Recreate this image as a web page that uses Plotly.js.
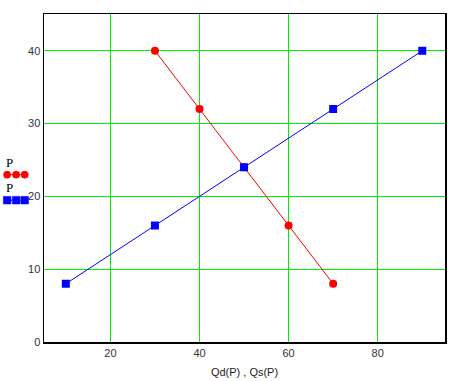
<!DOCTYPE html>
<html><head><meta charset="utf-8">
<script src="https://cdn.plot.ly/plotly-3.0.1.min.js"></script>
<style>html,body{margin:0;padding:0;background:#fff}</style>
</head><body>
<div id="chart" style="width:459px;height:381px"></div>
<script>
const P = [40, 32, 24, 16, 8];
const Qd = [30, 40, 50, 60, 70];
const PS = [8, 16, 24, 32, 40];
const Qs = [10, 30, 50, 70, 90];
const xTicks = [20, 40, 60, 80];
const yTicks = [0, 10, 20, 30, 40];
const legendLabels = ['P', 'P'];

const L = 44.3, T = 14.3, R = 444.7, B = 342.3;
const W = R - L, H = B - T;
const px = v => (v - L) / W;
const py = v => (B - v) / H;

const traces = [
  {x: Qd, y: P, mode: 'lines+markers', line: {color: '#ff0000', width: 1}, marker: {color: '#ff0000', size: 8, symbol: 'circle'}, showlegend: false},
  {x: Qs, y: PS, mode: 'lines+markers', line: {color: '#0000ff', width: 1}, marker: {color: '#0000ff', size: 8, symbol: 'square'}, showlegend: false}
];

const shapes = [];
const annotations = [];
function legendItem(yText, yLine, color, square, label) {
  annotations.push({xref: 'paper', yref: 'paper', x: px(4), y: py(yText), xanchor: 'left', yanchor: 'middle', text: label, showarrow: false, font: {family: 'Liberation Serif, serif', size: 13, color: '#000'}});
  shapes.push({type: 'line', xref: 'paper', yref: 'paper', x0: px(5), x1: px(27), y0: py(yLine), y1: py(yLine), line: {color: color, width: 1}});
  [7.5, 16.5, 25].forEach(cx => {
    const r = square ? 3.8 : 3.6;
    shapes.push({type: square ? 'rect' : 'circle', xref: 'paper', yref: 'paper', x0: px(cx - r), x1: px(cx + r), y0: py(yLine + r), y1: py(yLine - r), fillcolor: color, line: {color: color, width: 0.5}});
  });
}
legendItem(162.5, 175, '#ff0000', false, legendLabels[0]);
legendItem(187.5, 200.5, '#0000ff', true, legendLabels[1]);

const layout = {
  width: 459, height: 381,
  margin: {l: L, r: 459 - R, t: T, b: 381 - B, pad: 0},
  paper_bgcolor: '#fff', plot_bgcolor: '#fff',
  showlegend: false,
  font: {family: 'Liberation Sans, Arial, sans-serif', size: 11, color: '#333'},
  xaxis: {range: [5.1, 95.1], tickvals: xTicks, ticktext: xTicks.map(String), showgrid: true, gridcolor: '#00ee00', gridwidth: 1,
          zeroline: false, showline: true, mirror: true, linecolor: '#000', linewidth: 1.5, ticks: '', ticklen: 0,
          title: {text: 'Qd(P) , Qs(P)', standoff: 10, font: {size: 11, color: '#222'}}},
  yaxis: {range: [0, 45.05], tickvals: yTicks, ticktext: yTicks.map(String), showgrid: true, gridcolor: '#00ee00', gridwidth: 1,
          zeroline: false, showline: true, mirror: true, linecolor: '#000', linewidth: 1.5, ticks: '', ticklen: 0},
  shapes: shapes,
  annotations: annotations
};
Plotly.newPlot('chart', traces, layout, {displayModeBar: false, staticPlot: true});
</script>
</body></html>
